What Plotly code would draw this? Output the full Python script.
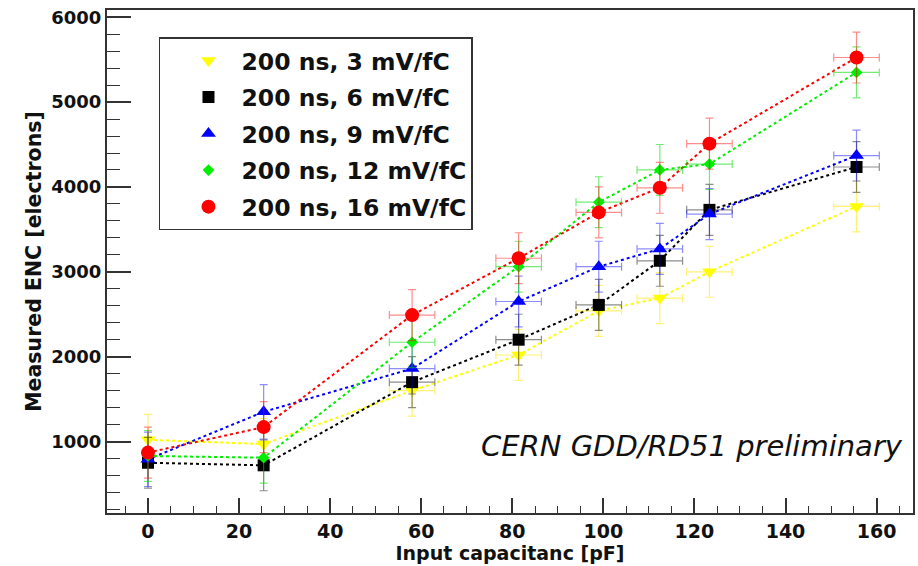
import plotly.graph_objects as go

# Data
capacitance = [0, 25.4, 58, 81.4, 99, 112.4, 123.3, 155.6]
cap_err = [0, 0, 5, 5, 5, 5, 5, 5]

series_names = ["200 ns, 3 mV/fC", "200 ns, 6 mV/fC", "200 ns, 9 mV/fC",
                "200 ns, 12 mV/fC", "200 ns, 16 mV/fC"]
enc_3 = [1020, 970, 1600, 2020, 2540, 2690, 3000, 3770]
enc_6 = [750, 720, 1700, 2200, 2610, 3130, 3730, 4235]
enc_9 = [790, 1350, 1860, 2650, 3060, 3270, 3680, 4370]
enc_12 = [830, 810, 2170, 3060, 3820, 4200, 4270, 5350]
enc_16 = [870, 1170, 2490, 3160, 3700, 3990, 4510, 5525]
enc_err_3 = [300, 300, 300, 300, 300, 300, 300, 300]
enc_err_6 = [300, 300, 300, 300, 300, 300, 300, 300]
enc_err_9 = [320, 320, 300, 300, 300, 300, 300, 300]
enc_err_12 = [300, 300, 300, 300, 300, 300, 300, 300]
enc_err_16 = [300, 300, 300, 300, 300, 300, 300, 300]

x_ticks = [0, 20, 40, 60, 80, 100, 120, 140, 160]
y_ticks = [1000, 2000, 3000, 4000, 5000, 6000]

series = [
    (series_names[0], enc_3, enc_err_3, "#ffff00", "rgba(255,230,0,0.55)", "triangle-down", 13),
    (series_names[1], enc_6, enc_err_6, "#000000", "rgba(0,0,0,0.45)", "square", 12),
    (series_names[2], enc_9, enc_err_9, "#0000ff", "rgba(0,0,255,0.45)", "triangle-up", 13),
    (series_names[3], enc_12, enc_err_12, "#00ee00", "rgba(0,220,0,0.55)", "diamond", 9),
    (series_names[4], enc_16, enc_err_16, "#ff0000", "rgba(255,0,0,0.45)", "circle", 14),
]

fig = go.Figure()

# connecting dotted lines (no legend)
for name, vals, errs, col, ecol, sym, sz in series:
    fig.add_trace(go.Scatter(
        x=capacitance, y=vals, mode="lines", showlegend=False, hoverinfo="skip",
        line=dict(color=col, width=2, dash="dot"),
    ))

# markers with error bars (legend entries)
for i, (name, vals, errs, col, ecol, sym, sz) in enumerate(series):
    fig.add_trace(go.Scatter(
        x=capacitance, y=vals, mode="markers", name=name, legendgroup=f"g{i}",
        marker=dict(color=col, symbol=sym, size=sz, line=dict(width=0)),
        error_y=dict(type="data", array=errs, visible=True, color=ecol, thickness=1.2, width=4),
        error_x=dict(type="data", array=cap_err, visible=True, color=ecol, thickness=1.2, width=4),
    ))

axis_color = "#333333"
tick_font = dict(family="DejaVu Sans", size=19, color="#111111", weight="bold")

fig.update_xaxes(
    range=[-9, 168], tickvals=x_ticks, ticks="inside", ticklen=15, tickwidth=1.5,
    tickcolor=axis_color, showline=True, linecolor=axis_color, linewidth=2, mirror=True,
    showgrid=False, zeroline=False, tickfont=tick_font, automargin=False,
    minor=dict(dtick=5, ticks="inside", ticklen=7, tickwidth=1.2, tickcolor=axis_color, showgrid=False),
    title=dict(text="Input capacitanc [pF]", standoff=2,
               font=dict(family="DejaVu Sans", size=19, color="#111111", weight="bold")),
)
fig.update_yaxes(
    range=[158, 6085], tickvals=y_ticks, ticks="inside", ticklen=24, tickwidth=1.5,
    tickcolor=axis_color, showline=True, linecolor=axis_color, linewidth=2, mirror=True,
    showgrid=False, zeroline=False, tickfont=dict(tick_font, size=18), automargin=False,
    minor=dict(dtick=200, ticks="inside", ticklen=13, tickwidth=1.2, tickcolor=axis_color, showgrid=False),
    title=dict(text="Measured ENC [electrons]", standoff=4,
               font=dict(family="DejaVu Sans", size=20.5, color="#111111", weight="bold")),
)

fig.add_annotation(
    text="CERN GDD/RD51 preliminary", xref="paper", yref="paper", x=0.99, y=0.133,
    xanchor="right", yanchor="middle", showarrow=False,
    font=dict(family="DejaVu Sans", size=29, color="#111111", style="italic"),
)

fig.update_layout(
    width=918, height=566,
    margin=dict(l=107, r=5, t=10, b=53),
    paper_bgcolor="white", plot_bgcolor="white",
    showlegend=True,
    legend=dict(
        x=0.0645, y=0.946, xanchor="left", yanchor="top",
        bgcolor="white", bordercolor="#333333", borderwidth=1.5,
        font=dict(family="DejaVu Sans", size=23.5, color="#111111", weight="bold"),
        tracegroupgap=3, itemwidth=56, indentation=15, itemsizing="trace",
        entrywidth=330, entrywidthmode="pixels",
    ),
)

fig.write_html(
    "out.html",
    config={"displayModeBar": False},
    post_script="document.body.style.margin='0';document.body.style.overflow='hidden';",
)
